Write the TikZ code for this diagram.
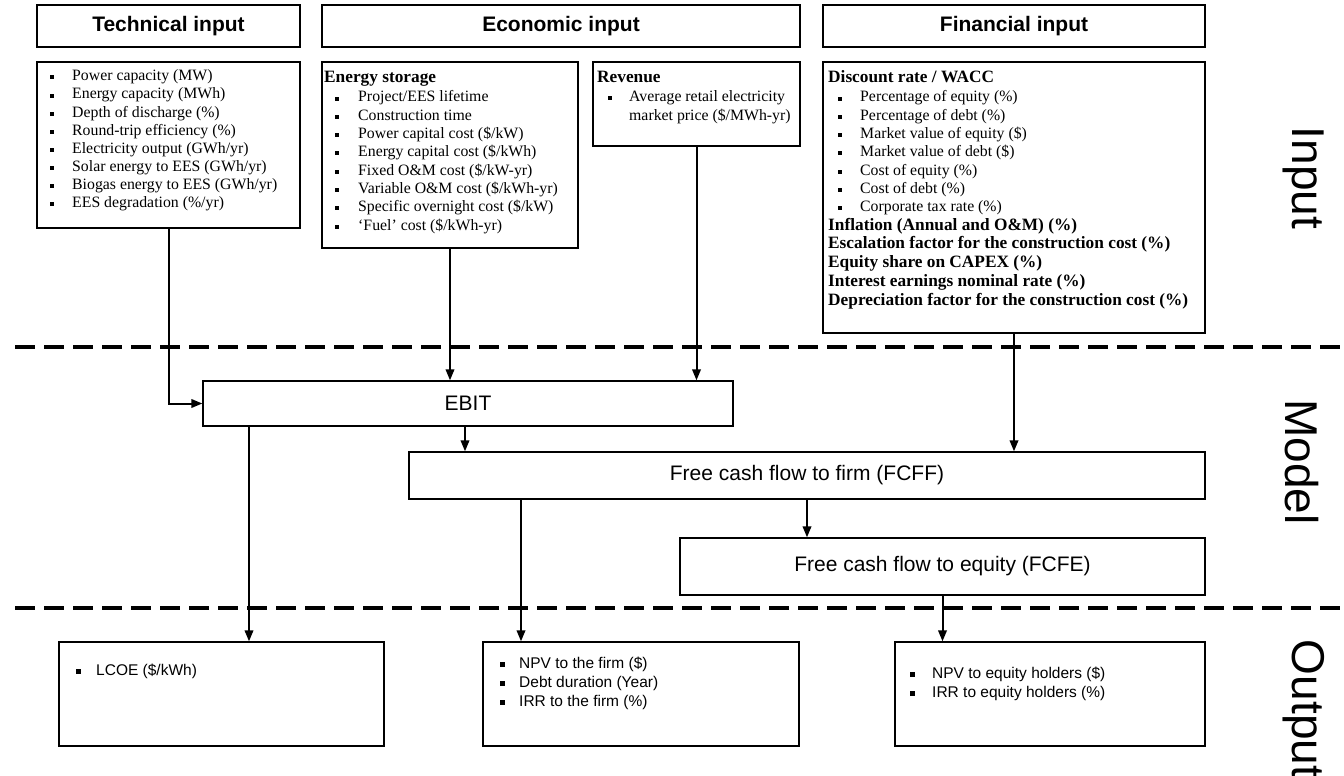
\documentclass[tikz,border=0pt]{standalone}
\usepackage{fontspec}
\setmainfont{Liberation Serif}
\setsansfont{Liberation Sans}
\usetikzlibrary{arrows.meta}
\begin{document}
\begin{tikzpicture}[x=1pt,y=-1pt,
  box/.style={draw, line width=1.3pt, inner sep=0pt},
  arr/.style={line width=2pt, -{Triangle[length=11pt,width=8.5pt]}},
  sepline/.style={line width=4pt, dash pattern=on 20pt off 9pt},
  hdr/.style={font=\sffamily\bfseries\fontsize{21}{24}\selectfont},
  itm/.style={anchor=base west, inner sep=0pt, font=\fontsize{15.8}{18}\selectfont},
  ttl/.style={anchor=base west, inner sep=0pt, font=\bfseries\fontsize{17.3}{20}\selectfont},
  mdl/.style={font=\sffamily\fontsize{21}{25}\selectfont},
  oit/.style={anchor=base west, inner sep=0pt, font=\sffamily\fontsize{15.5}{18}\selectfont},
  side/.style={font=\sffamily\fontsize{46}{50}\selectfont, rotate=-90, inner sep=0pt, anchor=base}
]
\useasboundingbox (0,0) rectangle (1344,776);

% headers
\node[box, hdr, minimum width=263pt, minimum height=42pt] (hT) at (168.5,26) {Technical input};
\node[box, hdr, minimum width=478pt, minimum height=42pt] (hE) at (561,26) {Economic input};
\node[box, hdr, minimum width=382pt, minimum height=42pt] (hF) at (1014,26) {Financial input};

% input boxes
\node[box, minimum width=263pt, minimum height=166pt] (tech) at (168.5,145) {};
\node[box, minimum width=256pt, minimum height=186pt] (es) at (450,155) {};
\node[box, minimum width=207pt, minimum height=84pt] (rev) at (696.5,104) {};
\node[box, minimum width=382pt, minimum height=271pt] (fin) at (1014,197.5) {};

% technical items
\foreach \t [count=\i] in {Power capacity (MW), Energy capacity (MWh), Depth of discharge (\%), Round-trip efficiency (\%), Electricity output (GWh/yr), Solar energy to EES (GWh/yr), Biogas energy to EES (GWh/yr), EES degradation (\%/yr)}{
  \node[itm] (ti\i) at (72,{81+18*(\i-1)}) {\t};
  \fill (50,{81+18*(\i-1)-5.5}) rectangle ++(4,4);
}

% energy storage
\node[ttl] (est) at (324,82) {Energy storage};
\foreach \t [count=\i] in {Project/EES lifetime, Construction time, Power capital cost (\$/kW), Energy capital cost (\$/kWh), Fixed O\&M cost (\$/kW-yr), Variable O\&M cost (\$/kWh-yr), Specific overnight cost (\$/kW), ‘Fuel’ cost (\$/kWh-yr)}{
  \node[itm] (ei\i) at (358,{102+18.3*(\i-1)}) {\t};
  \fill (335,{102+18.3*(\i-1)-5.5}) rectangle ++(4,4);
}

% revenue
\node[ttl] (revt) at (597,82) {Revenue};
\node[itm] (ri1) at (629,101) {Average retail electricity};
\node[itm] (ri2) at (629,121) {market price (\$/MWh-yr)};
\fill (608,95.5) rectangle ++(4,4);

% financial
\node[ttl] (fint) at (828,82) {Discount rate / WACC};
\foreach \t [count=\i] in {Percentage of equity (\%), Percentage of debt (\%), Market value of equity (\$), Market value of debt (\$), Cost of equity (\%), Cost of debt (\%), Corporate tax rate (\%)}{
  \node[itm] (fi\i) at (860,{102+18.3*(\i-1)}) {\t};
  \fill (838,{102+18.3*(\i-1)-5.5}) rectangle ++(4,4);
}
\foreach \t [count=\i] in {Inflation (Annual and O\&M) (\%), Escalation factor for the construction cost (\%), Equity share on CAPEX (\%), Interest earnings nominal rate (\%), Depreciation factor for the construction cost (\%)}{
  \node[ttl] (fb\i) at (828,{230+18.8*(\i-1)}) {\t};
}

% separators
\draw[sepline] (15,347) -- (1340,347);
\draw[sepline] (15,608) -- (1340,608);

% model boxes
\node[box, mdl, minimum width=530pt, minimum height=45pt] (ebit) at (468,403.5) {EBIT};
\node[box, mdl, minimum width=796pt, minimum height=47pt] (fcff) at (807,475.5) {Free cash flow to firm (FCFF)};
\node[box, mdl, minimum width=525pt, minimum height=57pt] (fcfe) at (942.5,566.5) {Free cash flow to equity (FCFE)};

% output boxes
\node[box, minimum width=325pt, minimum height=104pt] (lcoe) at (221.5,694) {};
\node[box, minimum width=316pt, minimum height=104pt] (npv) at (641,694) {};
\node[box, minimum width=310pt, minimum height=104pt] (eq) at (1050,694) {};

\node[oit] (o1) at (96,675) {LCOE (\$/kWh)};
\fill (75.5,669) rectangle ++(5,5);
\foreach \t [count=\i] in {NPV to the firm (\$), Debt duration (Year), IRR to the firm (\%)}{
  \node[oit] (n\i) at (519,{668+19*(\i-1)}) {\t};
  \fill (499.5,{668+19*(\i-1)-6}) rectangle ++(5,5);
}
\foreach \t [count=\i] in {NPV to equity holders (\$), IRR to equity holders (\%)}{
  \node[oit] (q\i) at (932,{678+19*(\i-1)}) {\t};
  \fill (909.5,{678+19*(\i-1)-6}) rectangle ++(5,5);
}

% side labels
\node[side] (sIn) at (1292,178) {Input};
\node[side] (sMo) at (1285,462) {Model};
\node[side] (sOu) at (1292,709) {Output};

% connectors
\coordinate (xa) at (249,0);
\coordinate (xb) at (465,0);
\coordinate (xc) at (521,0);
\draw[arr] (tech.south) |- (ebit.west);
\draw[arr] (es.south) -- (es.south |- ebit.north);
\draw[arr] (rev.south) -- (rev.south |- ebit.north);
\draw[arr] (fin.south) -- (fin.south |- fcff.north);
\draw[arr] (ebit.south -| xa) -- (lcoe.north -| xa);
\draw[arr] (ebit.south -| xb) -- (fcff.north -| xb);
\draw[arr] (fcff.south -| xc) -- (npv.north -| xc);
\draw[arr] (fcff.south) -- (fcfe.north -| fcff.south);
\draw[arr] (fcfe.south) -- (eq.north -| fcfe.south);
\end{tikzpicture}
\end{document}
